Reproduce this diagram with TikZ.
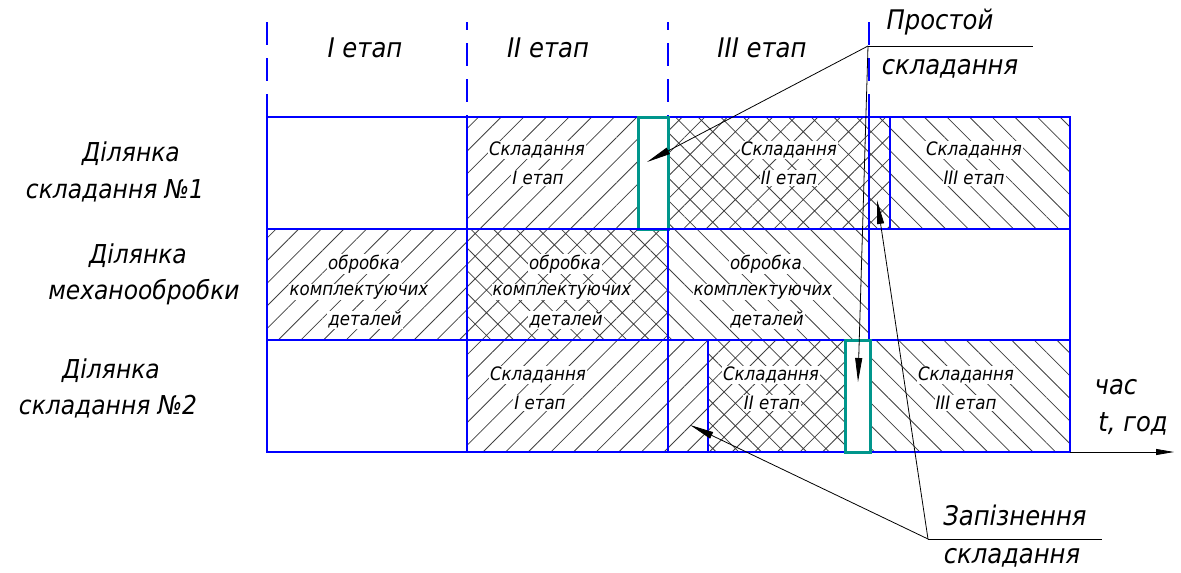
\documentclass[tikz,border=0pt]{standalone}
\usepackage{fontspec}
\setmainfont{DejaVu Sans Condensed Oblique}
\usetikzlibrary{arrows.meta,patterns.meta}

\definecolor{gridblue}{RGB}{0,0,255}
\definecolor{idleteal}{RGB}{0,150,140}

\tikzset{
  cell/.style   = {draw=gridblue, line width=2.6pt},
  idlebox/.style= {draw=idleteal, line width=3pt, fill=white},
  fwd/.style    = {pattern={Lines[angle=45,distance=16pt,line width=0.8pt]}, pattern color=black!75},
  bwd/.style    = {pattern={Lines[angle=-45,distance=16pt,line width=0.8pt]}, pattern color=black!75},
  xhatch/.style = {pattern={Hatch[angle=45,distance=16pt,line width=0.8pt]}, pattern color=black!75},
  stagesep/.style = {draw=gridblue, line width=2.6pt, dash pattern=on 23pt off 13pt},
  lead/.style   = {line width=0.8pt, -{Triangle[length=24pt,width=7pt]}},
  celltext/.style = {font=\fontsize{18.5}{20}\selectfont, fill=white, inner sep=1pt},
  sidetext/.style = {font=\fontsize{26}{28}\selectfont, inner sep=0pt},
  bigtext/.style  = {font=\fontsize{27}{28}\selectfont, inner sep=0pt}
}

\begin{document}
\begin{tikzpicture}[x=1pt, y=-1pt]
    \useasboundingbox (0,0) rectangle (1181,573);

    % stage borders (dashed, above the chart)
    \draw[stagesep]                 (267,22) -- (267,117);
    \draw[stagesep, dash phase=15pt](467,22) -- (467,117);
    \draw[stagesep, dash phase=15pt](668,22) -- (668,117);
    \draw[stagesep]                 (869,22) -- (869,117);

    \node[bigtext] (st1) at (365,48) {I етап};
    \node[bigtext] (st2) at (548,48) {II етап};
    \node[bigtext] (st3) at (762,48) {III етап};

    % hatching
    \path[fwd]    (467,117) rectangle (638,229);   % row 1
    \path[xhatch] (668,117) rectangle (890,229);
    \path[bwd]    (890,117) rectangle (1070,229);
    \path[fwd]    (267,229) rectangle (467,340);   % row 2
    \path[xhatch] (467,229) rectangle (668,340);
    \path[bwd]    (668,229) rectangle (869,340);
    \path[fwd]    (467,340) rectangle (708,452);   % row 3
    \path[xhatch] (708,340) rectangle (845,452);
    \path[bwd]    (870,340) rectangle (1070,452);

    % row 1: assembly section 1
    \draw[cell] (267,117) rectangle (467,229);
    \draw[cell] (467,117) rectangle (638,229);
    \draw[cell] (668,117) rectangle (890,229);
    \draw[cell] (890,117) rectangle (1070,229);
    \draw[cell] (869,117) -- (869,229);
    \draw[idlebox] (638,117) rectangle (668,229);

    % row 2: machining section
    \draw[cell] (267,229) rectangle (467,340);
    \draw[cell] (467,229) rectangle (668,340);
    \draw[cell] (668,229) rectangle (869,340);
    \draw[cell] (869,229) rectangle (1070,340);

    % row 3: assembly section 2
    \draw[cell] (267,340) rectangle (467,452);
    \draw[cell] (467,340) rectangle (708,452);
    \draw[cell] (668,340) -- (668,452);
    \draw[cell] (708,340) rectangle (845,452);
    \draw[cell] (870,340) rectangle (1070,452);
    \draw[idlebox] (845,340) rectangle (870,452);

    % cell labels
    \node[celltext] (a1a) at (537,150) {Складання};
    \node[celltext] (a1b) at (538,178) {I етап};
    \node[celltext] (a2a) at (789,150) {Складання};
    \node[celltext] (a2b) at (789,178) {II етап};
    \node[celltext] (a3a) at (974,150) {Складання};
    \node[celltext] (a3b) at (974,178) {III етап};

    \node[celltext] (m1a) at (364,264) {обробка};
    \node[celltext] (m1b) at (359,292) {комплектуючих};
    \node[celltext] (m1c) at (365,320) {деталей};
    \node[celltext] (m2a) at (565,264) {обробка};
    \node[celltext] (m2b) at (562,292) {комплектуючих};
    \node[celltext] (m2c) at (566,320) {деталей};
    \node[celltext] (m3a) at (766,264) {обробка};
    \node[celltext] (m3b) at (763,292) {комплектуючих};
    \node[celltext] (m3c) at (767,320) {деталей};

    \node[celltext] (b1a) at (538,375) {Складання};
    \node[celltext] (b1b) at (540,403) {I етап};
    \node[celltext] (b2a) at (771,375) {Складання};
    \node[celltext] (b2b) at (772,403) {II етап};
    \node[celltext] (b3a) at (966,375) {Складання};
    \node[celltext] (b3b) at (966,403) {III етап};

    % section names
    \node[sidetext] (s1a) at (131,154) {Ділянка};
    \node[sidetext] (s1b) at (115,191) {складання №1};
    \node[sidetext] (s2a) at (138,256) {Ділянка};
    \node[sidetext] (s2b) at (144,292) {механообробки};
    \node[sidetext] (s3a) at (111,371) {Ділянка};
    \node[sidetext] (s3b) at (108,407) {складання №2};

    % time axis
    \coordinate (t0) at (1070,452);
    \coordinate (t1) at (1174,452);
    \draw[line width=0.8pt, -{Triangle[length=18pt,width=6pt]}] (t0) -- (t1);
    \node[bigtext] (tt1) at (1116,387) {час};
    \node[bigtext] (tt2) at (1133,424) {t, год};

    % idle callout
    \coordinate (p1)  at (868,46);
    \coordinate (p1e) at (1033,46);
    \coordinate (i1)  at (647,162);
    \coordinate (i2)  at (858,382);
    \draw[line width=0.8pt] (p1) -- (p1e);
    \node[bigtext] (q1a) at (940,22) {Простой};
    \node[bigtext] (q1b) at (950,69) {складання};
    \draw[lead] (p1) -- (i1);
    \draw[lead] (p1) -- (i2);

    % delay callout
    \coordinate (p2)  at (928,539);
    \coordinate (p2e) at (1102,539);
    \coordinate (d1)  at (690,425);
    \coordinate (d2)  at (877,200);
    \draw[line width=0.8pt] (p2) -- (p2e);
    \node[bigtext] (q2a) at (1015,515) {Запізнення};
    \node[bigtext] (q2b) at (1012,558) {складання};
    \draw[lead] (p2) -- (d1);
    \draw[lead] (p2) -- (d2);
\end{tikzpicture}
\end{document}
